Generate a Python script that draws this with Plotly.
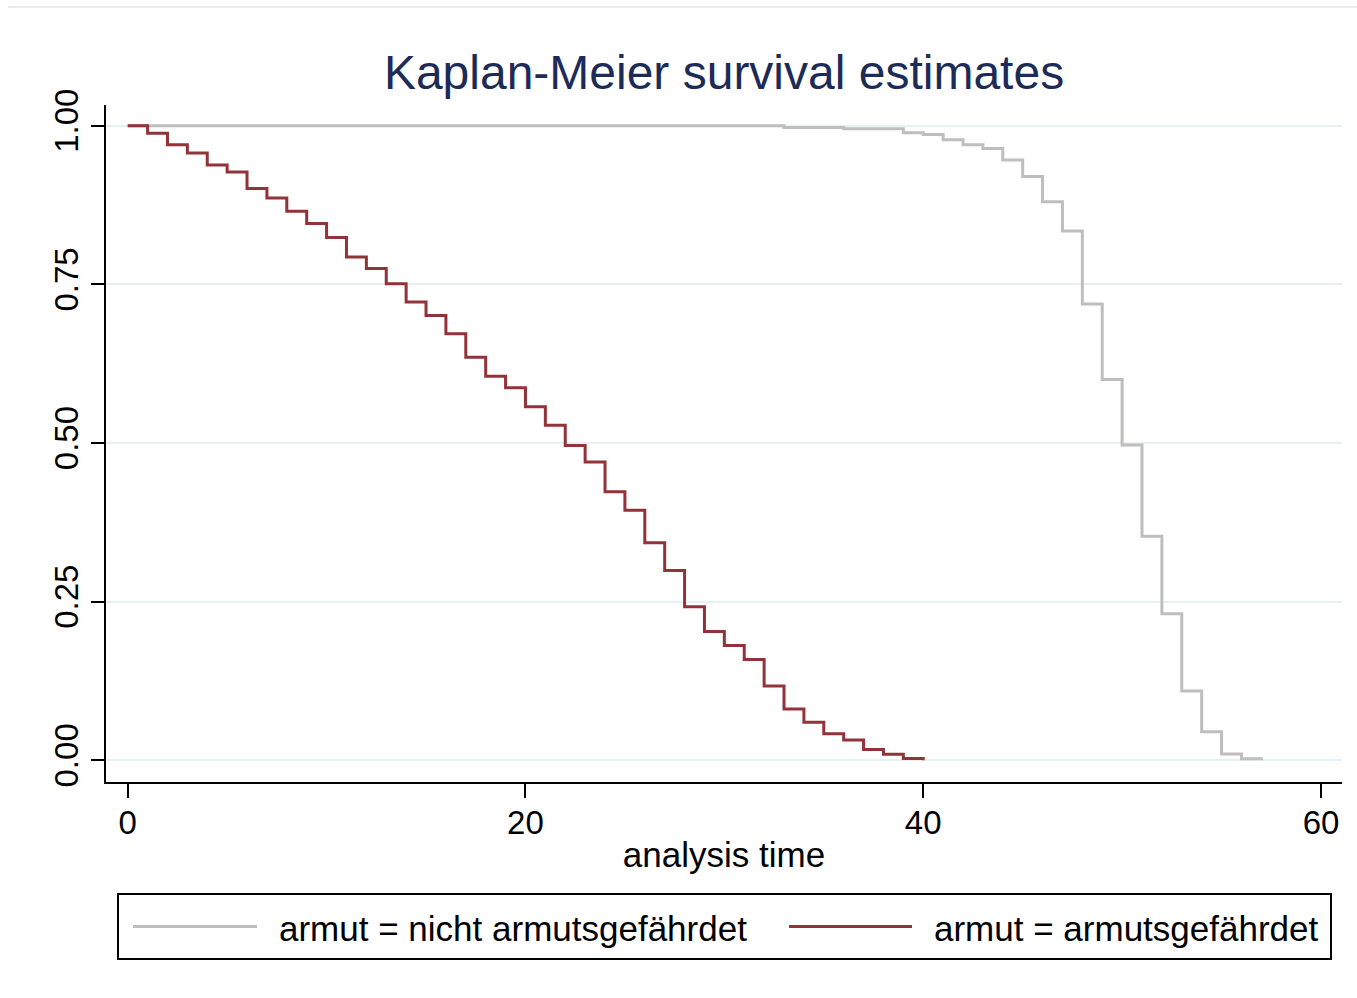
import plotly.graph_objects as go

# ---------------- data ----------------
group_names = ["armut = nicht armutsgefährdet", "armut = armutsgefährdet"]
group_colors = ["#bebebe", "#923239"]

time_nicht = [0, 33, 36, 39, 40, 41, 42, 43, 44, 45, 46, 47, 48, 49, 50, 51, 52, 53, 54, 55, 56, 57]
surv_nicht = [1.0, 0.997, 0.995, 0.989, 0.986, 0.978, 0.970, 0.964, 0.946, 0.920, 0.880, 0.834,
              0.719, 0.600, 0.497, 0.353, 0.231, 0.109, 0.045, 0.010, 0.0025, 0.0]

time_arm = list(range(0, 41))
surv_arm = [1.0, 0.988, 0.970, 0.957, 0.938, 0.927, 0.901, 0.886, 0.865, 0.846,
            0.824, 0.793, 0.775, 0.751, 0.722, 0.701, 0.672, 0.635, 0.605, 0.587,
            0.557, 0.528, 0.496, 0.470, 0.423, 0.394, 0.343, 0.299, 0.242, 0.203,
            0.181, 0.159, 0.117, 0.081, 0.060, 0.042, 0.032, 0.017, 0.0095, 0.003, 0.0]

x_ticks = [0, 20, 40, 60]
y_ticks = [0, 0.25, 0.5, 0.75, 1.0]
y_ticklabels = ["0.00", "0.25", "0.50", "0.75", "1.00"]

title_text = "Kaplan-Meier survival estimates"
x_title = "analysis time"

FONT = "Liberation Sans, Arial, sans-serif"

fig = go.Figure()
series = [(time_nicht, surv_nicht), (time_arm, surv_arm)]
for (t, s), name, col in zip(series, group_names, group_colors):
    fig.add_trace(go.Scatter(x=t, y=s, mode="lines", line=dict(color=col, width=3, shape="hv"),
                             name=name, showlegend=False, hoverinfo="x+y"))

W, H = 1357, 998
L, R, T, B = 106, 1342, 105, 782
pw, ph = R - L, B - T


def px(xp):
    return (xp - L) / pw


def py(yp):
    return (B - yp) / ph


shapes = []
annotations = []
# legend box
shapes.append(dict(type="rect", xref="paper", yref="paper", x0=px(118), x1=px(1331), y0=py(959), y1=py(894),
                   line=dict(color="black", width=2), fillcolor="white", layer="above"))
leg_line_x = [(133, 257), (789, 912)]
leg_text_x = [277, 932]
for i, (name, col) in enumerate(zip(group_names, group_colors)):
    shapes.append(dict(type="line", xref="paper", yref="paper", x0=px(leg_line_x[i][0]), x1=px(leg_line_x[i][1]),
                       y0=py(926.5), y1=py(926.5), line=dict(color=col, width=3), layer="above"))
    annotations.append(dict(text=name, xref="paper", yref="paper", x=px(leg_text_x[i]), y=py(928),
                            xanchor="left", yanchor="middle", showarrow=False,
                            font=dict(family=FONT, size=35, color="black")))
# faint outer region line at top
shapes.append(dict(type="line", xref="paper", yref="paper", x0=px(8), x1=px(1357), y0=py(7), y1=py(7),
                   line=dict(color="#e6edef", width=2), layer="below"))

fig.update_layout(
    width=W, height=H,
    margin=dict(l=L, r=W - R, t=T, b=H - B, autoexpand=False),
    paper_bgcolor="white", plot_bgcolor="white",
    title=dict(text=title_text, x=0.5, xref="paper", xanchor="center", y=1 - 72 / H, yref="container",
               yanchor="middle", font=dict(family=FONT, size=48, color="#1c2b57")),
    font=dict(family=FONT, color="black"),
    shapes=shapes, annotations=annotations,
    showlegend=False,
)
fig.update_xaxes(range=[-1.091, 61.056], tickvals=x_ticks, ticks="outside", ticklen=14, tickwidth=2,
                 tickcolor="black", showline=True, linecolor="black", linewidth=2, showgrid=False,
                 zeroline=False, tickfont=dict(family=FONT, size=33, color="black"), ticklabelstandoff=-4,
                 title=dict(text=x_title, font=dict(family=FONT, size=35, color="black"), standoff=3))
fig.update_yaxes(range=[-0.0342, 1.0326], tickvals=y_ticks, ticktext=y_ticklabels, tickangle=-90,
                 ticks="outside", ticklen=13, tickwidth=2, tickcolor="black", showline=True,
                 linecolor="black", linewidth=2, showgrid=True, gridcolor="#e7f0f2", gridwidth=2,
                 zeroline=False, tickfont=dict(family=FONT, size=33, color="black"))

fig.write_html("out.html")
